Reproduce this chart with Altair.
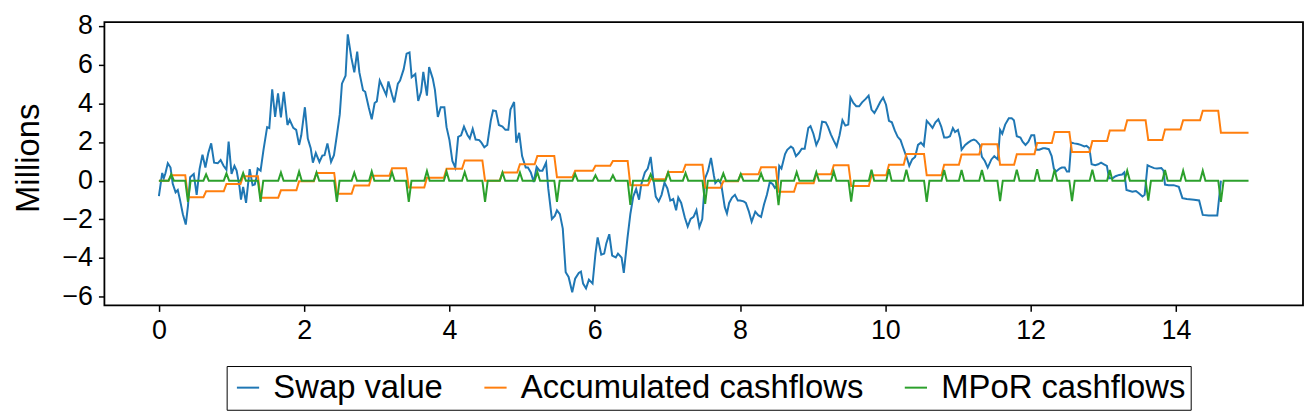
import altair as alt
import pandas as pd

# ---------------- data ----------------
swap_t = [0.00, 0.046, 0.068, 0.09, 0.123, 0.16, 0.19, 0.23, 0.26, 0.29, 0.33, 0.37, 0.40, 0.43, 0.48,
          0.52, 0.56, 0.60, 0.64, 0.68, 0.72, 0.76, 0.81, 0.85, 0.89, 0.93, 0.96, 1.00, 1.04, 1.07,
          1.11, 1.13, 1.16, 1.20, 1.25, 1.29, 1.32, 1.34, 1.36, 1.40, 1.44, 1.49, 1.52, 1.56, 1.60,
          1.64, 1.68, 1.72, 1.77, 1.80, 1.85, 1.89, 1.93, 1.96, 2.01, 2.05, 2.09, 2.12, 2.16, 2.21,
          2.25, 2.28, 2.32, 2.37, 2.41, 2.45, 2.49, 2.52, 2.57, 2.60, 2.65, 2.69, 2.73, 2.76, 2.81,
          2.84, 2.89, 2.93, 2.97, 3.00, 3.04, 3.08, 3.13, 3.16, 3.21, 3.24, 3.29, 3.32, 3.37, 3.41,
          3.45, 3.48, 3.53, 3.57, 3.61, 3.64, 3.69, 3.72, 3.77, 3.80, 3.84, 3.88, 3.93, 3.96, 4.00,
          4.04, 4.08, 4.12, 4.16, 4.20, 4.25, 4.28, 4.32, 4.36, 4.41, 4.44, 4.48, 4.52, 4.57, 4.60,
          4.64, 4.68, 4.73, 4.77, 4.81, 4.84, 4.89, 4.92, 4.96, 5.00, 5.05, 5.08, 5.12, 5.16, 5.20,
          5.24, 5.28, 5.33, 5.36, 5.41, 5.45, 5.48, 5.52, 5.56, 5.60, 5.64, 5.69, 5.73, 5.78, 5.81,
          5.84, 5.88, 5.92, 5.97, 6.01, 6.04, 6.09, 6.13, 6.16, 6.20, 6.24, 6.29, 6.32, 6.37, 6.40,
          6.45, 6.49, 6.53, 6.57, 6.61, 6.64, 6.69, 6.73, 6.77, 6.80, 6.84, 6.88, 6.92, 6.96, 7.00,
          7.04, 7.08, 7.12, 7.15, 7.19, 7.24, 7.28, 7.32, 7.36, 7.40, 7.44, 7.48, 7.52, 7.56, 7.60,
          7.64, 7.66, 7.70, 7.74, 7.79, 7.82, 7.85, 7.89, 7.93, 7.97, 8.00, 8.05, 8.08, 8.12, 8.16,
          8.21, 8.25, 8.29, 8.33, 8.37, 8.41, 8.45, 8.48, 8.52, 8.54, 8.57, 8.62, 8.65, 8.70, 8.73,
          8.77, 8.81, 8.85, 8.89, 8.94, 8.97, 9.01, 9.05, 9.09, 9.13, 9.18, 9.21, 9.25, 9.29, 9.33,
          9.37, 9.41, 9.45, 9.49, 9.52, 9.56, 9.60, 9.64, 9.68, 9.73, 9.77, 9.81, 9.85, 9.89, 9.93,
          9.97, 10.01, 10.05, 10.09, 10.13, 10.17, 10.21, 10.24, 10.28, 10.31, 10.33, 10.37, 10.41, 10.45, 10.49,
          10.53, 10.57, 10.61, 10.65, 10.69, 10.73, 10.77, 10.81, 10.85, 10.89, 10.93, 10.96, 11.00, 11.03, 11.05,
          11.10, 11.14, 11.18, 11.22, 11.25, 11.30, 11.33, 11.37, 11.41, 11.46, 11.50, 11.55, 11.58, 11.61, 11.65,
          11.70, 11.74, 11.77, 11.81, 11.86, 11.89, 11.93, 11.97, 12.01, 12.05, 12.08, 12.12, 12.17, 12.20, 12.25,
          12.29, 12.32, 12.35, 12.40, 12.43, 12.47, 12.50, 12.53, 12.56, 12.60, 12.65, 12.69, 12.74, 12.77, 12.81,
          12.84, 12.89, 12.93, 12.97, 13.01, 13.05, 13.08, 13.13, 13.17, 13.22, 13.26, 13.29, 13.32, 13.40, 13.45,
          13.49, 13.54, 13.57, 13.61, 13.65, 13.70, 13.74, 13.80, 13.83, 13.85, 13.90, 13.97, 14.04, 14.09, 14.15,
          14.25, 14.32, 14.37, 14.45, 14.57, 14.62]
swap_v = [-0.80, 0.40, 0.13, 0.38, 0.90, 0.68, -0.15, -0.60, -0.48, -0.98, -1.73, -2.27, -1.32, 0.18, 0.35,
          -0.73, 0.60, 1.35, 0.68, 1.43, 1.93, 0.93, 0.90, 1.07, 0.77, 0.57, 2.02, 0.35, 0.77, 0.52,
          -0.32, -0.98, -0.32, -1.15, 0.60, -0.23, -0.20, 0.13, 0.63, 0.52, 1.60, 2.77, 2.72, 4.73, 3.30,
          4.52, 3.27, 4.60, 2.88, 3.15, 2.73, 2.63, 1.85, 2.35, 3.80, 2.18, 1.68, 0.93, 1.43, 0.97,
          1.30, 1.32, 1.93, 0.97, 1.32, 2.35, 3.43, 5.02, 5.43, 7.57, 6.35, 5.60, 6.68, 5.60, 4.68,
          4.60, 3.77, 3.18, 4.02, 4.10, 5.18, 4.85, 4.43, 5.13, 4.43, 4.05, 5.02, 5.18, 5.77, 6.57,
          6.63, 5.35, 5.52, 4.13, 4.60, 5.63, 4.40, 5.88, 5.28, 4.70, 3.30, 3.80, 3.80, 2.77, 2.10,
          1.02, 0.68, 2.27, 2.35, 2.80, 2.35, 2.18, 2.68, 2.13, 2.10, 1.97, 1.73, 1.85, 3.13, 3.63,
          3.60, 2.88, 2.80, 2.63, 2.63, 3.68, 4.07, 1.97, 2.48, 1.27, 0.68, 0.68, 0.43, -0.07, 0.72,
          0.52, 0.52, 0.93, -0.40, -1.98, -1.82, -1.53, -1.73, -2.48, -4.73, -4.98, -5.77, -5.07, -4.77, -4.70,
          -5.32, -5.57, -5.12, -5.32, -3.77, -2.93, -3.83, -3.77, -3.23, -2.77, -3.87, -3.97, -3.77, -3.98, -4.77,
          -2.98, -1.73, -0.82, -0.43, -0.98, -0.20, 0.43, 0.63, 1.23, 0.27, -0.82, -1.07, -0.73, -0.10, -0.40,
          -1.03, -0.95, -1.53, -0.87, -1.15, -1.90, -2.37, -1.98, -1.87, -1.53, -2.40, -1.98, 0.13, 0.52, 1.18,
          0.27, -0.12, 0.05, -0.15, -1.37, -1.70, -1.15, -0.87, -0.73, -1.03, -1.03, -1.07, -1.15, -1.57, -2.12,
          -1.60, -1.78, -1.87, -1.23, -0.73, -0.07, -0.18, -0.37, -0.23, 0.77, 0.63, 1.38, 1.60, 1.77, 1.68,
          1.27, 1.43, 1.65, 1.65, 2.73, 2.82, 2.43, 1.85, 2.18, 3.05, 3.02, 2.80, 2.40, 2.07, 1.77,
          2.35, 3.13, 2.85, 2.90, 4.30, 4.02, 3.85, 3.85, 4.05, 4.23, 4.40, 3.68, 3.50, 3.77, 4.07,
          4.30, 3.93, 3.10, 3.02, 2.60, 2.27, 2.10, 1.77, 1.35, 1.02, 0.77, 1.10, 1.23, 1.85, 1.97,
          1.80, 3.10, 2.93, 2.73, 3.02, 3.18, 2.80, 2.23, 2.23, 2.30, 2.72, 2.52, 2.63, 2.18, 1.60,
          1.85, 1.97, 2.07, 2.13, 2.07, 1.85, 1.23, 1.02, 0.68, 1.10, 1.27, 1.10, 2.63, 2.43, 2.90,
          3.23, 3.23, 3.13, 2.30, 2.23, 2.02, 1.85, 2.02, 2.35, 2.35, 1.60, 1.60, 1.68, 1.68, 1.63,
          1.27, 0.63, 0.47, 0.63, 0.68, 0.68, 0.47, 0.47, 1.97, 1.93, 1.90, 1.85, 1.77, 1.80, 1.68,
          0.85, 0.80, 0.85, 0.93, 0.85, 0.77, 0.13, 0.13, 0.23, 0.30, 0.32, 0.43, -0.48, -0.57, -0.53,
          -0.65, -0.82, -0.73, 0.80, 0.73, 0.65, 0.63, 0.65, 0.52, -0.20, -0.23, -0.23, -0.32, -0.90, -0.95,
          -0.98, -1.02, -1.77, -1.80, -1.80, 0.00]

# cashflow dates (years) with the MPoR cashflow and the accumulated total after each date
event_t = [0.17, 0.40, 0.65, 0.93, 1.16, 1.40, 1.68, 1.93, 2.17, 2.45, 2.69, 2.93, 3.21, 3.44, 3.69,
           3.96, 4.21, 4.49, 4.73, 4.97, 5.21, 5.48, 5.73, 6.01, 6.25, 6.49, 6.77, 7.01, 7.25, 7.52,
           7.77, 8.01, 8.29, 8.53, 8.78, 9.05, 9.29, 9.53, 9.81, 10.05, 10.29, 10.57, 10.81, 11.05, 11.33,
           11.58, 11.81, 12.09, 12.33, 12.57, 12.85, 13.09, 13.33, 13.62, 13.85, 14.10, 14.37, 14.62]
mpor_v = [0.33, -1.10, 0.33, 0.38, 0.40, -1.10, 0.43, 0.47, 0.43, -1.10, 0.42, 0.48, 0.43, -1.10, 0.50,
          0.47, 0.45, -1.10, 0.43, 0.43, 0.45, -1.10, 0.35, 0.28, 0.28, -1.25, 0.33, 0.43, 0.40, -1.20,
          0.38, 0.35, 0.38, -1.27, 0.45, 0.45, 0.48, -1.08, 0.57, 0.60, 0.57, -1.10, 0.55, 0.55, 0.55,
          -1.05, 0.57, 0.60, 0.57, -1.05, 0.57, 0.55, 0.52, -1.03, 0.55, 0.52, 0.52, -1.10]
acc_v = [0.28, -0.85, -0.55, -0.17, 0.23, -0.88, -0.50, -0.03, 0.40, -0.68, -0.25, 0.25, 0.65, -0.35, 0.15,
         0.62, 1.05, 0.00, 0.42, 0.85, 1.28, 0.18, 0.52, 0.77, 1.02, -0.23, 0.07, 0.45, 0.82, -0.37,
         -0.03, 0.33, 0.70, -0.57, -0.13, 0.33, 0.80, -0.28, 0.28, 0.83, 1.38, 0.28, 0.82, 1.35, 1.88,
         0.83, 1.37, 1.95, 2.52, 1.48, 2.05, 2.60, 3.13, 2.10, 2.65, 3.13, 3.62, 2.48]

series = ["Swap value", "Accumulated cashflows", "MPoR cashflows"]
colors = ["#1f77b4", "#ff7f0e", "#2ca02c"]
x_ticks = [0, 2, 4, 6, 8, 10, 12, 14]
y_ticks = [-6, -4, -2, 0, 2, 4, 6, 8]
T_END = 15.0
STEP = 0.037  # simulation grid step

# ---------------- build table ----------------
rows = []
for i, (t, v) in enumerate(zip(swap_t, swap_v)):
    rows.append({"t": t, "v": v, "s": series[0], "o": i})

acc_pts = [(0.0, 0.0)]
prev = 0.0
for t, a in zip(event_t, acc_v):
    acc_pts.append((t - STEP, prev))
    acc_pts.append((t, a))
    prev = a
acc_pts.append((T_END, prev))
for i, (t, v) in enumerate(acc_pts):
    rows.append({"t": t, "v": v, "s": series[1], "o": i})

mp_pts = [(0.0, 0.0)]
for t, m in zip(event_t, mpor_v):
    mp_pts += [(t - STEP, 0.0), (t, m), (t + STEP, 0.0)]
mp_pts.append((T_END, 0.0))
for i, (t, v) in enumerate(mp_pts):
    rows.append({"t": t, "v": v, "s": series[2], "o": i})

df = pd.DataFrame(rows)

FONT = "Liberation Sans"
PLOT_TOP = 13
PLOT_H = 285

x_enc = alt.X("t:Q", scale=alt.Scale(domain=[-0.75, 15.75], nice=False, zero=False),
              axis=alt.Axis(values=x_ticks, title=None, format="d"))
y_enc = alt.Y("v:Q", scale=alt.Scale(domain=[-6.45, 8.2], nice=False, zero=False),
              axis=alt.Axis(values=y_ticks, title="Millions", format="d",
                            titleAngle=-90, titleX=-76, titleY=PLOT_H / 2 - 6, titleAlign="center",
                            titleBaseline="middle"))
color_enc = alt.Color("s:N", scale=alt.Scale(domain=series, range=colors),
                      legend=alt.Legend(title=None, orient="none", legendX=123, legendY=346,
                                        direction="horizontal", strokeColor="black",
                                        padding=5, symbolType="stroke", symbolSize=500,
                                        symbolStrokeWidth=2, labelFontSize=33, labelFont=FONT,
                                        columnPadding=36, labelOffset=9, labelColor="black",
                                        fillColor="white", cornerRadius=0, labelLimit=500))

layers = []
for s in series:
    layers.append(
        alt.Chart(df).transform_filter(alt.datum.s == s)
        .mark_line(strokeWidth=2, clip=True)
        .encode(x=x_enc, y=y_enc, color=color_enc, order="o:Q")
    )

chart = (alt.layer(*layers)
         .properties(width=1206, height=PLOT_H,
                     padding={"left": 97, "top": PLOT_TOP, "right": 1, "bottom": 105},
                     autosize="none")
         .configure(font=FONT)
         .configure_view(stroke="black", strokeWidth=1.8)
         .configure_axis(grid=False, domain=False, tickColor="black", tickWidth=1.5, tickSize=6,
                         labelFontSize=27, labelColor="black", labelPadding=6, labelFont=FONT,
                         titleFontSize=33, titleFontWeight="normal", titleColor="black",
                         titleFont=FONT))

chart.save("out.html", embed_options={"renderer": "svg", "actions": False})
